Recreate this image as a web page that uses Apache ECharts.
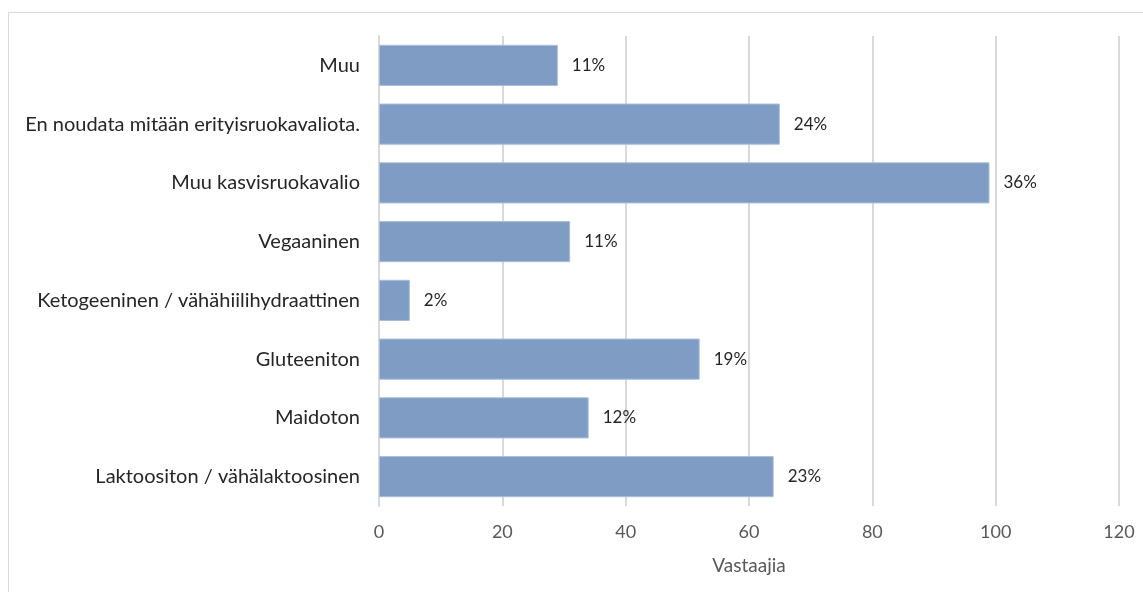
<!DOCTYPE html>
<html><head><meta charset="utf-8">
<script src="https://cdn.jsdelivr.net/npm/echarts@6/dist/echarts.min.js"></script>
<style>html,body{margin:0;padding:0;background:#fff}#c{width:1143px;height:592px}</style>
</head><body><div id="c"></div>
<script>
const categories = ["Laktoositon / vähälaktoosinen","Maidoton","Gluteeniton","Ketogeeninen / vähähiilihydraattinen","Vegaaninen","Muu kasvisruokavalio","En noudata mitään erityisruokavaliota.","Muu"];
const values = [64,34,52,5,31,99,65,29];
const percentLabels = ["23%","12%","19%","2%","11%","36%","24%","11%"];
const xTicks = [0,20,40,60,80,100,120];
const axisTitle = "Vastaajia";
const FONT = "Lato";
const chart = echarts.init(document.getElementById('c'));
chart.setOption({
  animation:false,
  graphic:[{type:'rect',shape:{x:8.5,y:12.5,width:1140,height:590},style:{fill:'none',stroke:'#d9d9d9',lineWidth:1},silent:true}],
  grid:{left:379,right:24,top:36,bottom:86},
  xAxis:{type:'value',min:xTicks[0],max:xTicks[xTicks.length-1],interval:20,
    name:axisTitle,nameLocation:'middle',nameGap:50,
    nameTextStyle:{color:'#595959',fontSize:19,fontFamily:FONT},
    axisLine:{show:false},axisTick:{show:false},
    axisLabel:{color:'#595959',fontSize:18,fontFamily:FONT,margin:17},
    splitLine:{lineStyle:{color:'#d9d9d9',width:2}}},
  yAxis:{type:'category',data:categories,
    axisLine:{show:true,lineStyle:{color:'#d9d9d9',width:2}},axisTick:{show:false},
    axisLabel:{color:'#262626',fontSize:20,fontFamily:FONT,margin:19}},
  series:[{type:'bar',data:values,barCategoryGap:'30%',
    itemStyle:{color:'#7f9dc4',borderColor:'#a9bedb',borderWidth:1},
    label:{show:true,position:'right',distance:14,color:'#262626',fontSize:17,fontFamily:FONT,
      formatter:p=>percentLabels[p.dataIndex]}}]
});
</script></body></html>
